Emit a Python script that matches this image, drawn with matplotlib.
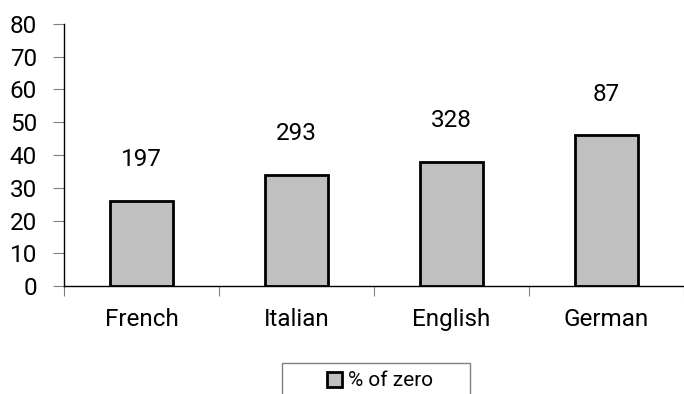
import matplotlib.pyplot as plt
from matplotlib.patches import Rectangle

plt.rcParams['font.family'] = ['Roboto', 'DejaVu Sans']

languages = ["French", "Italian", "English", "German"]
pct_zero = [26, 34, 38, 46]
counts = ["197", "293", "328", "87"]
y_ticks = [0, 10, 20, 30, 40, 50, 60, 70, 80]

fig = plt.figure(figsize=(6.84, 3.94), dpi=100)
ax = fig.add_axes([64 / 684, 1 - 286 / 394, 1 - 64 / 684, (286 - 24) / 394])

x = range(len(languages))
bars = ax.bar(x, pct_zero, width=0.41, color="#c0c0c0", edgecolor="black",
              linewidth=2, label="% of zero")

for rect, txt in zip(bars, counts):
    ax.annotate(txt, (rect.get_x() + rect.get_width() / 2, rect.get_height()),
                xytext=(0, 25), textcoords="offset points",
                ha="center", va="baseline", fontsize=17.5)

ax.set_xlim(-0.5, 3.5)
ax.set_ylim(0, 80)
ax.set_yticks(y_ticks)
ax.tick_params(axis="y", length=8, color="#808080", pad=11.5, labelsize=17.5)

# category boundaries get the tick marks, centres get the labels
ax.set_xticks([-0.5, 0.5, 1.5, 2.5, 3.5])
ax.set_xticklabels([])
ax.tick_params(axis="x", which="major", length=7, color="#808080")
ax.set_xticks(list(x), minor=True)
ax.set_xticklabels(languages, minor=True)
ax.tick_params(axis="x", which="minor", length=0, pad=16, labelsize=17.5)

for side in ["top", "right"]:
    ax.spines[side].set_visible(False)
ax.spines["left"].set_linewidth(1)
ax.spines["bottom"].set_linewidth(1)

# legend box runs off the bottom of the figure
fig.patches.append(Rectangle((282 / 684, -0.05), 188 / 684, 0.05 + 1 - 363 / 394,
                             transform=fig.transFigure, facecolor="white",
                             edgecolor="#808080", linewidth=1))
fig.legend(handles=[bars], labels=["% of zero"], loc="center",
           bbox_to_anchor=(380 / 684, 1 - 381 / 394), frameon=False,
           fontsize=15, handlelength=0.7, handleheight=0.7, handletextpad=0.3)

fig.savefig("out.png", dpi=100)
